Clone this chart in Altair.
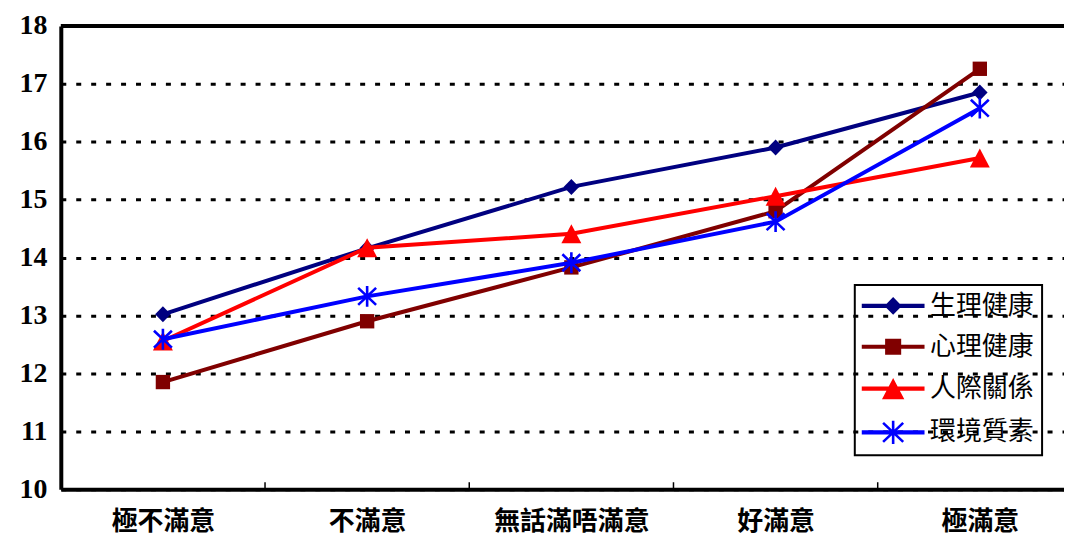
import json
import math
import altair as alt
import pandas as pd

categories = ["極不滿意", "不滿意", "無話滿唔滿意", "好滿意", "極滿意"]
series_names = ["生理健康", "心理健康", "人際關係", "環境質素"]
physical = [13.02, 14.16, 15.22, 15.90, 16.85]
psychological = [11.85, 12.90, 13.83, 14.80, 17.26]
social = [12.56, 14.17, 14.41, 15.06, 15.72]
environment = [12.59, 13.33, 13.91, 14.62, 16.58]
y_ticks = [10, 11, 12, 13, 14, 15, 16, 17, 18]
colors = ["#000080", "#800000", "#FF0000", "#0000FF"]

series_values = [physical, psychological, social, environment]
n = len(categories)
boundaries = [i + 0.5 for i in range(n - 1)]

rows = []
for s, vals in zip(series_names, series_values):
    for i, v in enumerate(vals):
        rows.append({"series": s, "idx": i, "value": v})
df = pd.DataFrame(rows)


# ---- marker shapes (unit = 10px at size 400) ----
def bar(x1, y1, x2, y2, t):
    dx, dy = x2 - x1, y2 - y1
    L = math.hypot(dx, dy)
    nx, ny = -dy / L * t, dx / L * t
    return (f"M{x1+nx:.3f},{y1+ny:.3f}L{x2+nx:.3f},{y2+ny:.3f}"
            f"L{x2-nx:.3f},{y2-ny:.3f}L{x1-nx:.3f},{y1-ny:.3f}Z")


def diamond(k=1.0):
    return f"M0,{-0.8*k}L{-0.78*k},0L0,{0.8*k}L{0.78*k},0Z"


def square(k=1.0):
    a = 0.72 * k
    return f"M{-a},{-a}V{a}H{a}V{-a}Z"


def triangle(k=1.0):
    return f"M0,{-0.95*k}L{-1*k},{0.95*k}L{1*k},{0.95*k}Z"


def asterisk(k=1.0):
    t = 0.13
    return (bar(-0.9 * k, -0.85 * k, 0.9 * k, 0.85 * k, t)
            + bar(-0.9 * k, 0.85 * k, 0.9 * k, -0.85 * k, t)
            + bar(0, -1.05 * k, 0, 1.05 * k, t))


markers = [diamond(), square(), triangle(), asterisk()]
leg_line = "M-3.15,-0.21V0.21H3.15V-0.21Z"
legend_shapes = [leg_line + f(1.12) for f in (diamond, square, triangle, asterisk)]

# ---- scales / axes ----
W, H = 1007, 465
step = 205
xmax = -0.5 + W / step
xscale = alt.Scale(domain=[-0.5, xmax], nice=False, zero=False)
yscale = alt.Scale(domain=[10, 18], nice=False, zero=False)

xaxis = alt.Axis(
    values=list(range(n)),
    labelExpr=f"{json.dumps(categories, ensure_ascii=False)}[datum.value]",
    title=None, ticks=False, grid=False,
    domainColor="black", domainWidth=4,
    labelFont="Noto Sans CJK TC", labelFontWeight="bold", labelFontSize=26,
    labelColor="black", labelPadding=19, labelFlush=False,
)
yaxis = alt.Axis(
    values=y_ticks, title=None, ticks=False,
    grid=True, gridColor="black", gridDash=[5, 10], gridWidth=3,
    domainColor="black", domainWidth=4,
    labelFont="Liberation Serif", labelFontWeight="bold", labelFontSize=28,
    labelColor="black", labelPadding=14,
)

X = alt.X("idx:Q", scale=xscale, axis=xaxis)
Y = alt.Y("value:Q", scale=yscale, axis=yaxis)

base = alt.Chart(df)

layers = []
# top border
layers.append(
    alt.Chart(pd.DataFrame({"v": [18]})).mark_rule(color="black", strokeWidth=4).encode(
        y=alt.Y("v:Q", scale=yscale, axis=yaxis)
    )
)
# inward category-boundary ticks
tick_df = pd.DataFrame({"b": boundaries, "y0": [10] * len(boundaries), "y1": [10.12] * len(boundaries)})
layers.append(
    alt.Chart(tick_df).mark_rule(color="black", strokeWidth=1.5).encode(
        x=alt.X("b:Q", scale=xscale, axis=xaxis),
        y=alt.Y("y0:Q", scale=yscale, axis=yaxis),
        y2="y1:Q",
    )
)
for s, c, m in zip(series_names, colors, markers):
    sub = base.transform_filter(alt.datum.series == s)
    layers.append(sub.mark_line(color=c, strokeWidth=4).encode(x=X, y=Y))
    layers.append(
        sub.mark_point(shape=m, filled=True, size=400, color=c, opacity=1).encode(x=X, y=Y)
    )

legend_props = dict(
    title=None, orient="none", legendX=797, legendY=260,
    strokeColor="black", padding=8, rowPadding=15,
    symbolSize=400, symbolOffset=17.5, labelOffset=24,
    labelFont="Noto Sans CJK TC", labelFontSize=26, labelColor="black",
    symbolOpacity=1, labelLimit=300,
)

# legend carrier (clipped away; only its legend is shown)
leg_df = pd.DataFrame({"series": series_names, "idx": [0] * 4, "value": [0] * 4})
layers.append(
    alt.Chart(leg_df).mark_point(filled=True, size=400, opacity=1, clip=True).encode(
        x=X, y=Y,
        color=alt.Color(
            "series:N",
            scale=alt.Scale(domain=series_names, range=colors),
            legend=alt.Legend(**legend_props),
        ),
        shape=alt.Shape(
            "series:N",
            scale=alt.Scale(domain=series_names, range=legend_shapes),
            legend=alt.Legend(**legend_props),
        ),
    )
)

chart = alt.layer(*layers).properties(
    width=W, height=H,
    autosize=alt.AutoSizeParams(type="none"),
    padding={"left": 53, "top": 17, "right": 0, "bottom": 48},
    background="white",
).configure_view(stroke=None).configure_legend(strokeWidth=2)

chart.save("out.html", embed_options={"renderer": "svg", "actions": False})
